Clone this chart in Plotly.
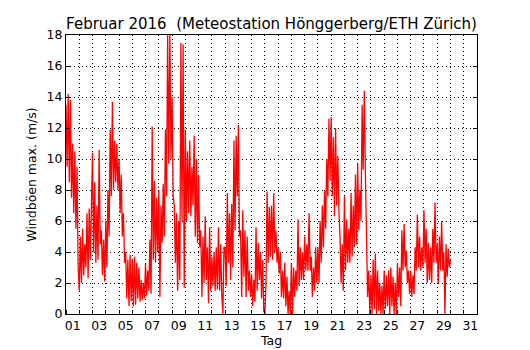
import numpy as np
import plotly.graph_objects as go

# Max wind gusts (m/s), Feb 2016, 2-hourly samples (12 per day)
gust_max = [
    13.5, 9.5, 14.2, 8.5, 13.8, 7.5, 11.0, 6.5, 10.5, 5.5, 9.5, 3.0,      # 01
    1.5, 5.0, 2.0, 5.5, 2.5, 4.5, 3.0, 6.5, 2.3, 6.8, 3.5, 8.0,          # 02
    10.4, 4.0, 8.5, 3.3, 7.0, 3.5, 10.6, 4.5, 5.4, 2.5, 4.8, 2.1,        # 03
    6.0, 3.0, 8.0, 5.0, 11.9, 7.6, 13.7, 8.0, 11.2, 8.5, 11.0, 8.0,      # 04
    10.0, 6.5, 9.0, 5.0, 6.5, 3.3, 4.0, 1.0, 3.5, 0.5, 3.8, 0.8,         # 05
    3.5, 0.5, 3.7, 0.6, 3.3, 1.0, 3.0, 0.8, 2.2, 0.9, 2.0, 1.0,          # 06
    3.3, 1.2, 2.8, 1.5, 4.8, 1.3, 12.1, 3.5, 8.6, 3.3, 7.5, 4.0,         # 07
    8.0, 1.1, 7.0, 4.6, 8.4, 5.0, 11.9, 7.6, 18.0, 9.7, 18.0, 10.0,      # 08
    14.0, 7.6, 7.0, 3.3, 6.5, 1.5, 6.0, 2.2, 17.5, 6.0, 17.4, 1.7,       # 09
    11.9, 6.0, 10.5, 6.5, 11.2, 6.3, 9.5, 7.0, 11.5, 5.0, 10.0, 4.6,     # 10
    9.0, 4.3, 5.4, 1.1, 5.0, 2.0, 6.3, 2.2, 4.3, 0.7, 5.6, 1.5,          # 11
    3.7, 1.8, 4.0, 1.5, 4.3, 1.6, 5.6, 1.5, 4.5, 1.2, 0.0, 4.3,          # 12
    4.3, 1.8, 7.8, 3.3, 6.5, 2.2, 7.1, 3.0, 11.2, 5.4, 11.5, 7.6,        # 13
    12.2, 5.0, 5.4, 1.1, 6.7, 2.4, 5.4, 1.1, 5.0, 1.5, 2.8, 1.1,         # 14
    2.6, 0.5, 2.2, 0.8, 5.6, 1.5, 4.6, 2.2, 4.0, 1.0, 3.5, 0.2,          # 15
    0.0, 2.0, 7.9, 3.3, 6.9, 3.7, 7.0, 3.5, 7.8, 4.0, 5.4, 3.3,          # 16
    4.3, 2.6, 4.0, 1.1, 2.8, 1.0, 3.3, 0.5, 2.4, 0.0, 1.5, 0.0,          # 17
    3.3, 0.0, 3.0, 1.1, 2.8, 1.5, 6.1, 1.8, 4.3, 2.2, 4.0, 2.2,          # 18
    5.0, 2.8, 4.5, 2.8, 6.5, 2.8, 3.7, 1.1, 3.0, 1.5, 4.3, 2.0,          # 19
    4.3, 2.0, 6.0, 3.3, 7.0, 4.3, 8.0, 5.5, 10.0, 7.6, 12.6, 8.6,        # 20
    12.7, 7.6, 11.4, 6.3, 12.0, 7.0, 10.2, 6.7, 5.0, 2.0, 4.5, 1.5,      # 21
    7.6, 2.8, 6.1, 3.3, 5.5, 3.3, 7.8, 3.7, 7.0, 4.3, 9.0, 4.5,          # 22
    9.7, 5.4, 8.0, 6.0, 13.5, 9.3, 14.4, 9.0, 4.8, 1.1, 2.8, 0.0,        # 23
    2.5, 0.0, 3.5, 0.3, 3.9, 0.0, 2.8, 0.2, 2.0, 0.0, 1.8, 0.0,          # 24
    2.8, 0.3, 2.5, 0.5, 2.8, 0.0, 3.0, 0.5, 2.4, 0.0, 2.0, 0.0,          # 25
    3.3, 1.1, 3.0, 0.5, 5.4, 2.8, 5.8, 3.0, 4.1, 2.0, 2.8, 1.3,          # 26
    2.8, 1.1, 2.5, 1.3, 4.3, 2.8, 6.4, 3.0, 5.0, 2.8, 4.3, 3.0,          # 27
    6.7, 3.3, 5.5, 2.0, 4.6, 2.2, 4.3, 2.0, 5.5, 3.3, 7.2, 3.3,          # 28
    4.5, 2.0, 5.0, 2.8, 6.0, 2.8, 4.0, 0.0, 4.5, 2.4, 4.2, 3.0,          # 29
    3.5,
]
samples_per_day = 12
days_in_axis = 31
tick_days = list(range(1, 32, 2))
tick_labels = [f"{d:02d}" for d in tick_days]

# time in days since 1 Feb 00:00
t = np.arange(len(gust_max)) / samples_per_day

fig = go.Figure()
fig.add_trace(go.Scatter(x=t, y=gust_max, mode="lines",
                         line=dict(color="#ff0000", width=1.3), showlegend=False))

font = "DejaVu Sans"
grid_dash = "1px,3px"
W, H = 522, 342  # page body has an 8px margin
fig.update_layout(
    width=W, height=H,
    margin=dict(l=58, r=53, t=27, b=36, autoexpand=False),
    paper_bgcolor="white", plot_bgcolor="white",
    font=dict(family=font, size=12.5, color="black"),
    title=dict(text="Februar 2016  (Meteostation Hönggerberg/ETH Zürich)",
               x=0.5, xref="paper", xanchor="center",
               y=1 - 15.5 / H, yref="container", yanchor="middle",
               font=dict(family=font, size=15, color="black")),
)
fig.update_xaxes(
    range=[0, days_in_axis], automargin=False,
    tickmode="array",
    tickvals=[d - 0.5 for d in tick_days], ticktext=tick_labels,
    ticks="", showgrid=False, zeroline=False,
    showline=True, linecolor="black", linewidth=1.3, mirror=True,
    tickfont=dict(size=12.5),
    title=dict(text="Tag", standoff=3, font=dict(size=12.5)),
    minor=dict(tickmode="linear", tick0=0, dtick=1, ticks="inside", ticklen=4,
               tickcolor="black", showgrid=True, gridcolor="black",
               gridwidth=1, griddash=grid_dash),
)
fig.update_yaxes(
    range=[0, 18], tickmode="linear", tick0=0, dtick=2, automargin=False,
    ticks="inside", ticklen=4, tickcolor="black",
    showgrid=True, gridcolor="black", gridwidth=1, griddash=grid_dash,
    zeroline=False,
    showline=True, linecolor="black", linewidth=1.3, mirror="ticks",
    tickfont=dict(size=12.5),
    title=dict(text="Windböen max. (m/s)", standoff=7, font=dict(size=12.5)),
)

fig.write_html("out.html")
